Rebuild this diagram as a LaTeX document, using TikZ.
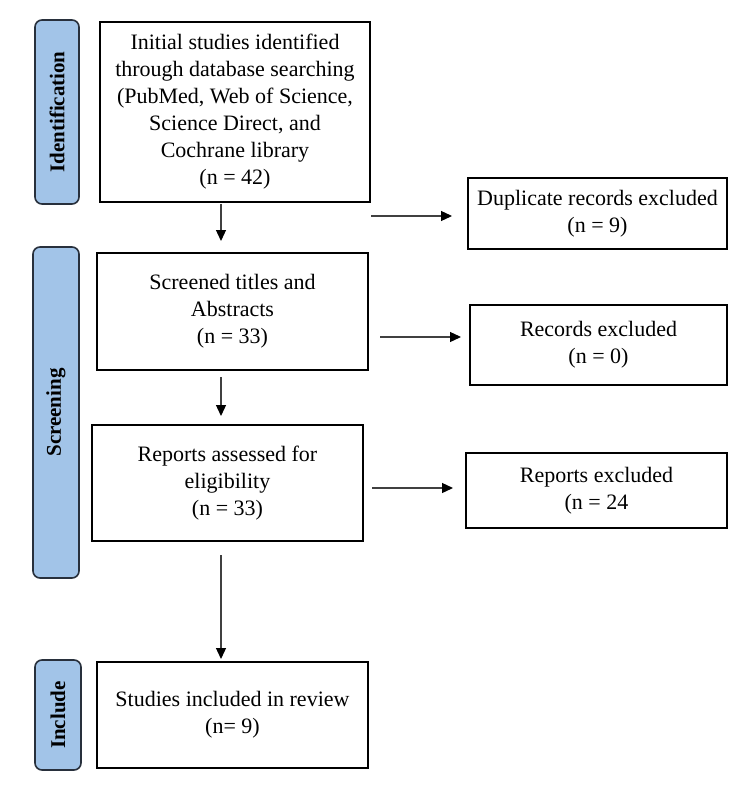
\documentclass[tikz,border=0pt]{standalone}
\usepackage{fontspec}
\setmainfont{Liberation Serif}
\usetikzlibrary{arrows.meta}
\definecolor{barfill}{RGB}{162,196,232}
\definecolor{barline}{RGB}{40,48,60}
\begin{document}
\begin{tikzpicture}[x=1pt,y=-1pt,
  box/.style={draw=black,line width=1.6pt,fill=white,inner sep=0pt,outer sep=0pt,align=center,
    font=\fontsize{22}{27}\selectfont},
  bar/.style={draw=barline,line width=1.6pt,fill=barfill,rounded corners=7pt,inner sep=0pt,outer sep=0pt,
    rotate=90,font=\fontsize{21}{24}\selectfont\bfseries},
  arr/.style={line width=1.3pt,draw=black!75,-{Triangle[length=11pt,width=10pt,fill=black,color=black]}}]
\useasboundingbox[fill=white] (0,0) rectangle (750,802);
% side bars
\node[bar,minimum width=184pt,minimum height=44pt] (ident) at (57,112) {Identification};
\node[bar,minimum width=331pt,minimum height=46pt] (screen) at (56,412.5) {Screening};
\node[bar,minimum width=110pt,minimum height=46pt] (incl) at (58,715) {Include};
% main boxes
\node[box,minimum width=270pt,minimum height=180pt] (b1) at (235,112)
  {Initial studies identified\\through database searching\\(PubMed, Web of Science,\\Science Direct, and\\Cochrane library\\(n = 42)};
\node[box,minimum width=271pt,minimum height=117pt] (b2) at (232.5,311.5)
  {Screened titles and\\Abstracts\\(n = 33)};
\node[box,minimum width=271pt,minimum height=116pt] (b3) at (227.5,483)
  {Reports assessed for\\eligibility\\(n = 33)};
\node[box,minimum width=271pt,minimum height=106pt] (b4) at (232.5,715)
  {Studies included in review\\(n= 9)};
% exclusion boxes
\node[box,minimum width=259pt,minimum height=71pt] (dup) at (597.5,213.5)
  {Duplicate records excluded\\(n = 9)};
\node[box,minimum width=257pt,minimum height=80pt] (rec) at (598.5,345)
  {Records excluded\\(n = 0)};
\node[box,minimum width=261pt,minimum height=75pt] (rep) at (596.5,490.5)
  {Reports excluded\\(n = 24};
% arrow end points
\coordinate (a1s) at (221,204); \coordinate (a1e) at (221,241);
\coordinate (a2s) at (371,216); \coordinate (a2e) at (452,216);
\coordinate (a3s) at (380,337); \coordinate (a3e) at (461,337);
\coordinate (a4s) at (221,377); \coordinate (a4e) at (221,416);
\coordinate (a5s) at (372,488); \coordinate (a5e) at (453,488);
\coordinate (a6s) at (221,555); \coordinate (a6e) at (221,659);
\draw[arr] (a1s) -- (a1e);
\draw[arr] (a2s) -- (a2e);
\draw[arr] (a3s) -- (a3e);
\draw[arr] (a4s) -- (a4e);
\draw[arr] (a5s) -- (a5e);
\draw[arr] (a6s) -- (a6e);
\end{tikzpicture}
\end{document}
